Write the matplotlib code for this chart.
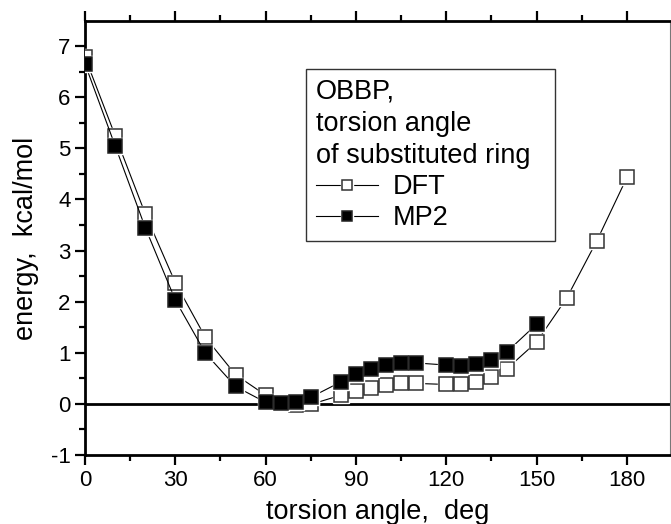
import matplotlib
matplotlib.use("Agg")
from matplotlib import pyplot as plt
from matplotlib.ticker import MultipleLocator
from matplotlib.legend_handler import HandlerTuple

plt.rcParams['font.family'] = ['Liberation Sans', 'DejaVu Sans']
plt.rcParams['axes.unicode_minus'] = False

# torsion angles (deg) and relative energies (kcal/mol)
angles_dft = [0, 10, 20, 30, 40, 50, 60, 65, 70, 75, 85, 90, 95, 100, 105, 110,
              120, 125, 130, 135, 140, 150, 160, 170, 180]
energy_dft = [6.78, 5.25, 3.72, 2.37, 1.30, 0.57, 0.17, 0.02, -0.02, -0.01, 0.17,
              0.25, 0.32, 0.37, 0.40, 0.40, 0.38, 0.39, 0.43, 0.52, 0.68, 1.21,
              2.07, 3.19, 4.43]

angles_mp2 = [0, 10, 20, 30, 40, 50, 60, 65, 70, 75, 85, 90, 95, 100, 105, 110,
              120, 125, 130, 135, 140, 150]
energy_mp2 = [6.65, 5.05, 3.45, 2.03, 0.99, 0.34, 0.03, 0.01, 0.03, 0.13, 0.43,
              0.58, 0.68, 0.76, 0.80, 0.80, 0.76, 0.75, 0.78, 0.86, 1.01, 1.56]

legend_title = "OBBP,\ntorsion angle\nof substituted ring  "


def series(ax, x, y, face, edge, z):
    # line, then a white halo so the line stops short of the marker, then marker
    ln, = ax.plot(x, y, color='black', lw=0.8, zorder=z)
    halo, = ax.plot(x, y, ls='none', marker='s', ms=12, mfc='white', mec='white',
                    zorder=z + 0.1)
    mk, = ax.plot(x, y, ls='none', marker='s', ms=9.5, mfc=face, mec=edge,
                  mew=1.1, zorder=z + 0.2)
    return (ln, halo, mk)


fig = plt.figure(figsize=(6.71, 5.24), dpi=100)
ax = fig.add_axes([0.1267, 0.1317, 0.8718, 0.8282])

ax.axhline(0, color='black', lw=2.0, zorder=1)

h_dft = series(ax, angles_dft, energy_dft, 'white', '#333333', 3)
h_mp2 = series(ax, angles_mp2, energy_mp2, 'black', '#222222', 4)

ax.set_xlim(0, 194.3)
ax.set_ylim(-1, 7.49)
ax.xaxis.set_major_locator(MultipleLocator(30))
ax.xaxis.set_minor_locator(MultipleLocator(15))
ax.yaxis.set_major_locator(MultipleLocator(1))
ax.yaxis.set_minor_locator(MultipleLocator(0.5))

ax.tick_params(which='both', direction='out', top=True, right=False, width=1.6,
               labelsize=16)
ax.tick_params(which='major', length=7)
ax.tick_params(which='minor', length=4)

for side in ['left', 'bottom', 'top']:
    ax.spines[side].set_linewidth(2.0)
ax.spines['right'].set_linewidth(0.8)
ax.spines['right'].set_color('#777777')

ax.set_xlabel("torsion angle,  deg", fontsize=19.5, labelpad=6)
ax.set_ylabel("energy,  kcal/mol", fontsize=19.5, labelpad=8)

leg = ax.legend([h_dft, h_mp2], ['DFT', 'MP2'],
                handler_map={tuple: HandlerTuple(ndivide=1)},
                title=legend_title, loc='upper left',
                bbox_to_anchor=(0.378, 0.889), borderaxespad=0,
                fontsize=19.5, title_fontsize=19.5, alignment='left',
                markerscale=0.75, handlelength=2.3, handletextpad=0.55,
                labelspacing=0.2, borderpad=0.35, fancybox=False,
                framealpha=1, edgecolor='#333333')
leg.get_frame().set_linewidth(1.0)
leg.get_title().set_linespacing(1.3)

fig.savefig("out.png", dpi=100)
